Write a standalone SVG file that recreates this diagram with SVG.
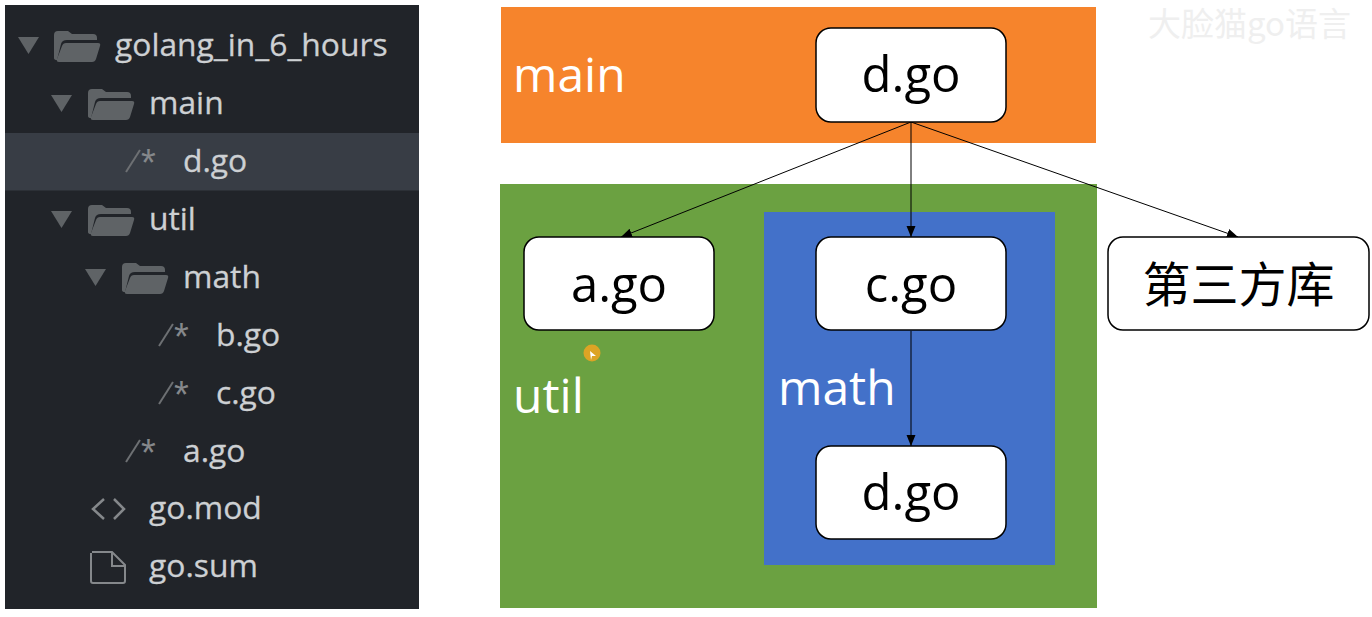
<svg xmlns="http://www.w3.org/2000/svg" width="1372" height="617" viewBox="0 0 1372 617">
<defs>
<marker id="arrow" markerWidth="12" markerHeight="10" refX="11" refY="4.5" orient="auto" markerUnits="userSpaceOnUse"><path d="M0 0L11 4.5L0 9Z" fill="#000"/></marker>
<g id="folder"><path d="M1 28V5Q1 1 5 1H15L19 4H40Q44 4 44 8V10H14Q9 10 8 14L4 30Q1 30 1 28Z" fill="#5f6366"/><path d="M6 32Q3 32 4 29L9 16Q10 13 13 13H45Q48 13 47 16L43 29Q42 32 39 32Z" fill="#5f6366"/></g>
<path id="tri" d="M0 0H21L10.500 17Z" fill="#5f6366"/>
<g id="cmt"><path d="M126 172L140 150" stroke="#6d7073" stroke-width="2" fill="none"/><text x="141" y="176" class="ast">*</text></g>
</defs>
<style>
.t{font-family:"Open Sans","Noto Sans",sans-serif;font-size:31.800px;fill:#cdd0d3;stroke:#cdd0d3;stroke-width:.3}
.ast{font-family:"Liberation Sans",sans-serif;font-size:38px;fill:#85888b}
.lbl{font-family:"Open Sans","Noto Sans",sans-serif;font-size:48px;fill:#fff}
.nt{font-family:"Open Sans","Noto Sans",sans-serif;font-size:49px;fill:#000;text-anchor:middle}
.box{fill:#fff;stroke:#000;stroke-width:1.500}
.edge{stroke:#000;stroke-width:1;fill:none;marker-end:url(#arrow)}
</style>
<rect width="1372" height="617" fill="#fff"/>
<g id="file-tree">
<rect x="5" y="5" width="414" height="604" fill="#212429"/>
<rect x="5" y="133" width="414" height="57.500" fill="#383d45"/>
<use href="#tri" x="18" y="37"/><use href="#folder" x="53" y="30"/>
<text class="t" x="115" y="56">golang_in_6_hours</text>
<use href="#tri" x="51" y="95"/><use href="#folder" x="87" y="88"/>
<text class="t" x="149" y="114">main</text>
<use href="#cmt"/>
<text class="t" x="183" y="172">d.go</text>
<use href="#tri" x="51" y="211"/><use href="#folder" x="87" y="204"/>
<text class="t" x="149" y="230">util</text>
<use href="#tri" x="85" y="269"/><use href="#folder" x="121" y="262"/>
<text class="t" x="183" y="288">math</text>
<use href="#cmt" x="33" y="174"/>
<text class="t" x="216" y="346">b.go</text>
<use href="#cmt" x="33" y="232"/>
<text class="t" x="216" y="404">c.go</text>
<use href="#cmt" y="290"/>
<text class="t" x="183" y="462">a.go</text>
<path d="M104 499L93 509L104 519M114 499L124 509L114 519" fill="none" stroke="#85888b" stroke-width="2.500"/>
<text class="t" x="149" y="519">go.mod</text>
<path d="M92 552H112L125 565V581Q125 583 123 583H93Q91 583 91 581V553M112 552V566H125" fill="none" stroke="#85888b" stroke-width="2"/>
<text class="t" x="149" y="577">go.sum</text>
</g>
<g id="main-pkg"><rect x="501" y="7" width="595" height="136" fill="#f6842c"/><text class="lbl" x="513" y="92">main</text></g>
<g id="util-pkg"><rect x="500" y="184" width="597" height="424" fill="#6ba141"/><text class="lbl" x="513" y="413">util</text></g>
<g id="math-pkg"><rect x="764" y="212" width="291" height="353" fill="#4371c9"/><text class="lbl" x="778" y="405">math</text></g>
<g id="connectors">
<path class="edge" d="M911 122L621 237"/>
<path class="edge" d="M911 122V237"/>
<path class="edge" d="M911 122L1238 237"/>
<path class="edge" d="M911 331V446"/>
</g>
<g id="node-d-main"><rect class="box" x="816" y="28" width="190" height="94" rx="15"/><text class="nt" x="911" y="92">d.go</text></g>
<g id="node-a"><rect class="box" x="524" y="237" width="190" height="93" rx="15"/><text class="nt" x="619" y="302">a.go</text></g>
<g id="node-c"><rect class="box" x="816" y="237" width="190" height="93" rx="15"/><text class="nt" x="911" y="302">c.go</text></g>
<g id="node-d-math"><rect class="box" x="816" y="446" width="190" height="93" rx="15"/><text class="nt" x="911" y="510">d.go</text></g>
<g id="node-third"><rect class="box" x="1108" y="237" width="261" height="93" rx="15"/><text x="1238.500" y="302" text-anchor="middle" font-family="'Noto Sans CJK SC',sans-serif" font-size="48">第三方库</text></g>
<g id="cursor"><circle cx="592" cy="353" r="8.500" fill="#dca425"/><path d="M590 351L596 356L592 356L591 360Z" fill="#fff"/></g>
<text id="watermark" x="1148" y="36" font-family="'Noto Sans CJK SC',sans-serif" font-size="33" fill="#efefef">大脸猫go语言</text>
</svg>
